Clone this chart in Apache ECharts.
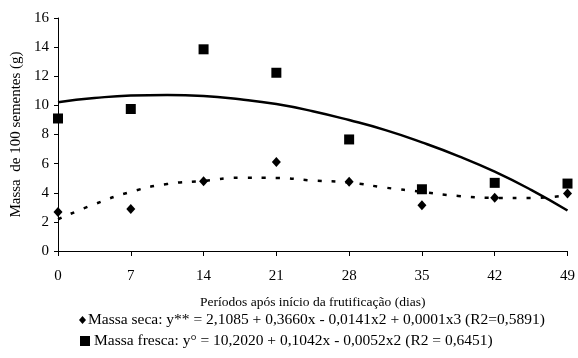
<!DOCTYPE html>
<html><head><meta charset="utf-8">
<script src="https://cdn.jsdelivr.net/npm/echarts@6/dist/echarts.min.js"></script>
<style>html,body{margin:0;padding:0;background:#fff}#c{width:578px;height:358px}</style>
</head><body><div id="c"></div>
<script>
const days = [0, 7, 14, 21, 28, 35, 42, 49];
const massaSeca = [2.68, 2.89, 4.79, 6.12, 4.75, 3.14, 3.65, 3.95];
const massaFresca = [9.1, 9.75, 13.85, 12.24, 7.66, 4.24, 4.68, 4.63];
// trend curves
const trendX = [0, 3.5, 7, 10.5, 14, 17.5, 21, 24.5, 28, 31.5, 35, 38.5, 42, 45.5, 49];
const trendSeca = [2.18, 3.21, 4.06, 4.6, 4.81, 5.03, 5.02, 4.84, 4.7, 4.35, 4.06, 3.78, 3.65, 3.64, 3.84];
const trendFresca = [10.22, 10.5, 10.68, 10.72, 10.65, 10.42, 10.09, 9.6, 8.99, 8.3, 7.46, 6.52, 5.45, 4.2, 2.78];
const xTicks = {min: 0, max: 49, interval: 7};
const yTicks = {min: 0, max: 16, interval: 2};
const nameSeca = 'Massa seca: y** = 2,1085 + 0,3660x - 0,0141x2 + 0,0001x3 (R2=0,5891)';
const nameFresca = 'Massa fresca: y° = 10,2020 + 0,1042x - 0,0052x2 (R2 = 0,6451)';
const xTitle = 'Períodos após início da frutificação (dias)';
const yTitle = 'Massa  de 100 sementes (g)';

const font = 'Liberation Serif';
const pair = (xs, ys) => xs.map((x, i) => [x, ys[i]]);
const legText = {fontFamily: font, fontSize: 15.5, color: '#000'};
const chart = echarts.init(document.getElementById('c'), null, {renderer: 'canvas'});
chart.setOption({
  animation: false,
  backgroundColor: '#fff',
  textStyle: {fontFamily: font, color: '#000'},
  grid: {left: 58, right: 9, top: 18, bottom: 107},
  legend: [
    {left: 79, top: 312, padding: 0, itemWidth: 7, itemHeight: 8, itemGap: 0, selectedMode: false,
     data: [{name: nameSeca, icon: 'diamond', itemStyle: {color: '#000', opacity: 1}}],
     textStyle: Object.assign({}, legText, {padding: [0, 0, 0, -3]})},
    {left: 80, top: 333, padding: 0, itemWidth: 10, itemHeight: 10, itemGap: 0, selectedMode: false,
     data: [{name: nameFresca, icon: 'rect', itemStyle: {color: '#000', opacity: 1}}],
     textStyle: Object.assign({}, legText, {padding: [0, 0, 0, -1]})}
  ],
  xAxis: {
    type: 'value', min: xTicks.min, max: xTicks.max, interval: xTicks.interval,
    name: xTitle, nameLocation: 'middle', nameGap: 44,
    nameTextStyle: {fontFamily: font, fontSize: 13.5, color: '#000'},
    axisLine: {lineStyle: {color: '#000', width: 1}},
    axisTick: {show: true, inside: false, length: 5, lineStyle: {color: '#000'}},
    axisLabel: {fontFamily: font, fontSize: 15, color: '#000', margin: 18},
    splitLine: {show: false}
  },
  yAxis: {
    type: 'value', min: yTicks.min, max: yTicks.max, interval: yTicks.interval,
    name: yTitle, nameLocation: 'middle', nameGap: 26,
    nameTextStyle: {fontFamily: font, fontSize: 15, color: '#000'},
    axisLine: {show: true, lineStyle: {color: '#000', width: 1}},
    axisTick: {show: true, inside: false, length: 4, lineStyle: {color: '#000'}},
    axisLabel: {fontFamily: font, fontSize: 15, color: '#000', margin: 9},
    splitLine: {show: false}
  },
  series: [
    {name: 'trendFresca', type: 'line', smooth: true, showSymbol: false, silent: true,
     data: pair(trendX, trendFresca), lineStyle: {color: '#000', width: 2.5}, z: 2},
    {name: 'trendSeca', type: 'line', smooth: true, showSymbol: false, silent: true,
     data: pair(trendX, trendSeca), lineStyle: {color: '#000', width: 2.5, type: [4, 10]}, z: 2},
    {name: nameSeca, type: 'scatter', symbol: 'diamond', symbolSize: [9, 10],
     data: pair(days, massaSeca), itemStyle: {color: '#000', opacity: 1}, z: 3},
    {name: nameFresca, type: 'scatter', symbol: 'rect', symbolSize: 10,
     data: pair(days, massaFresca), itemStyle: {color: '#000', opacity: 1}, z: 3}
  ]
});
</script></body></html>
